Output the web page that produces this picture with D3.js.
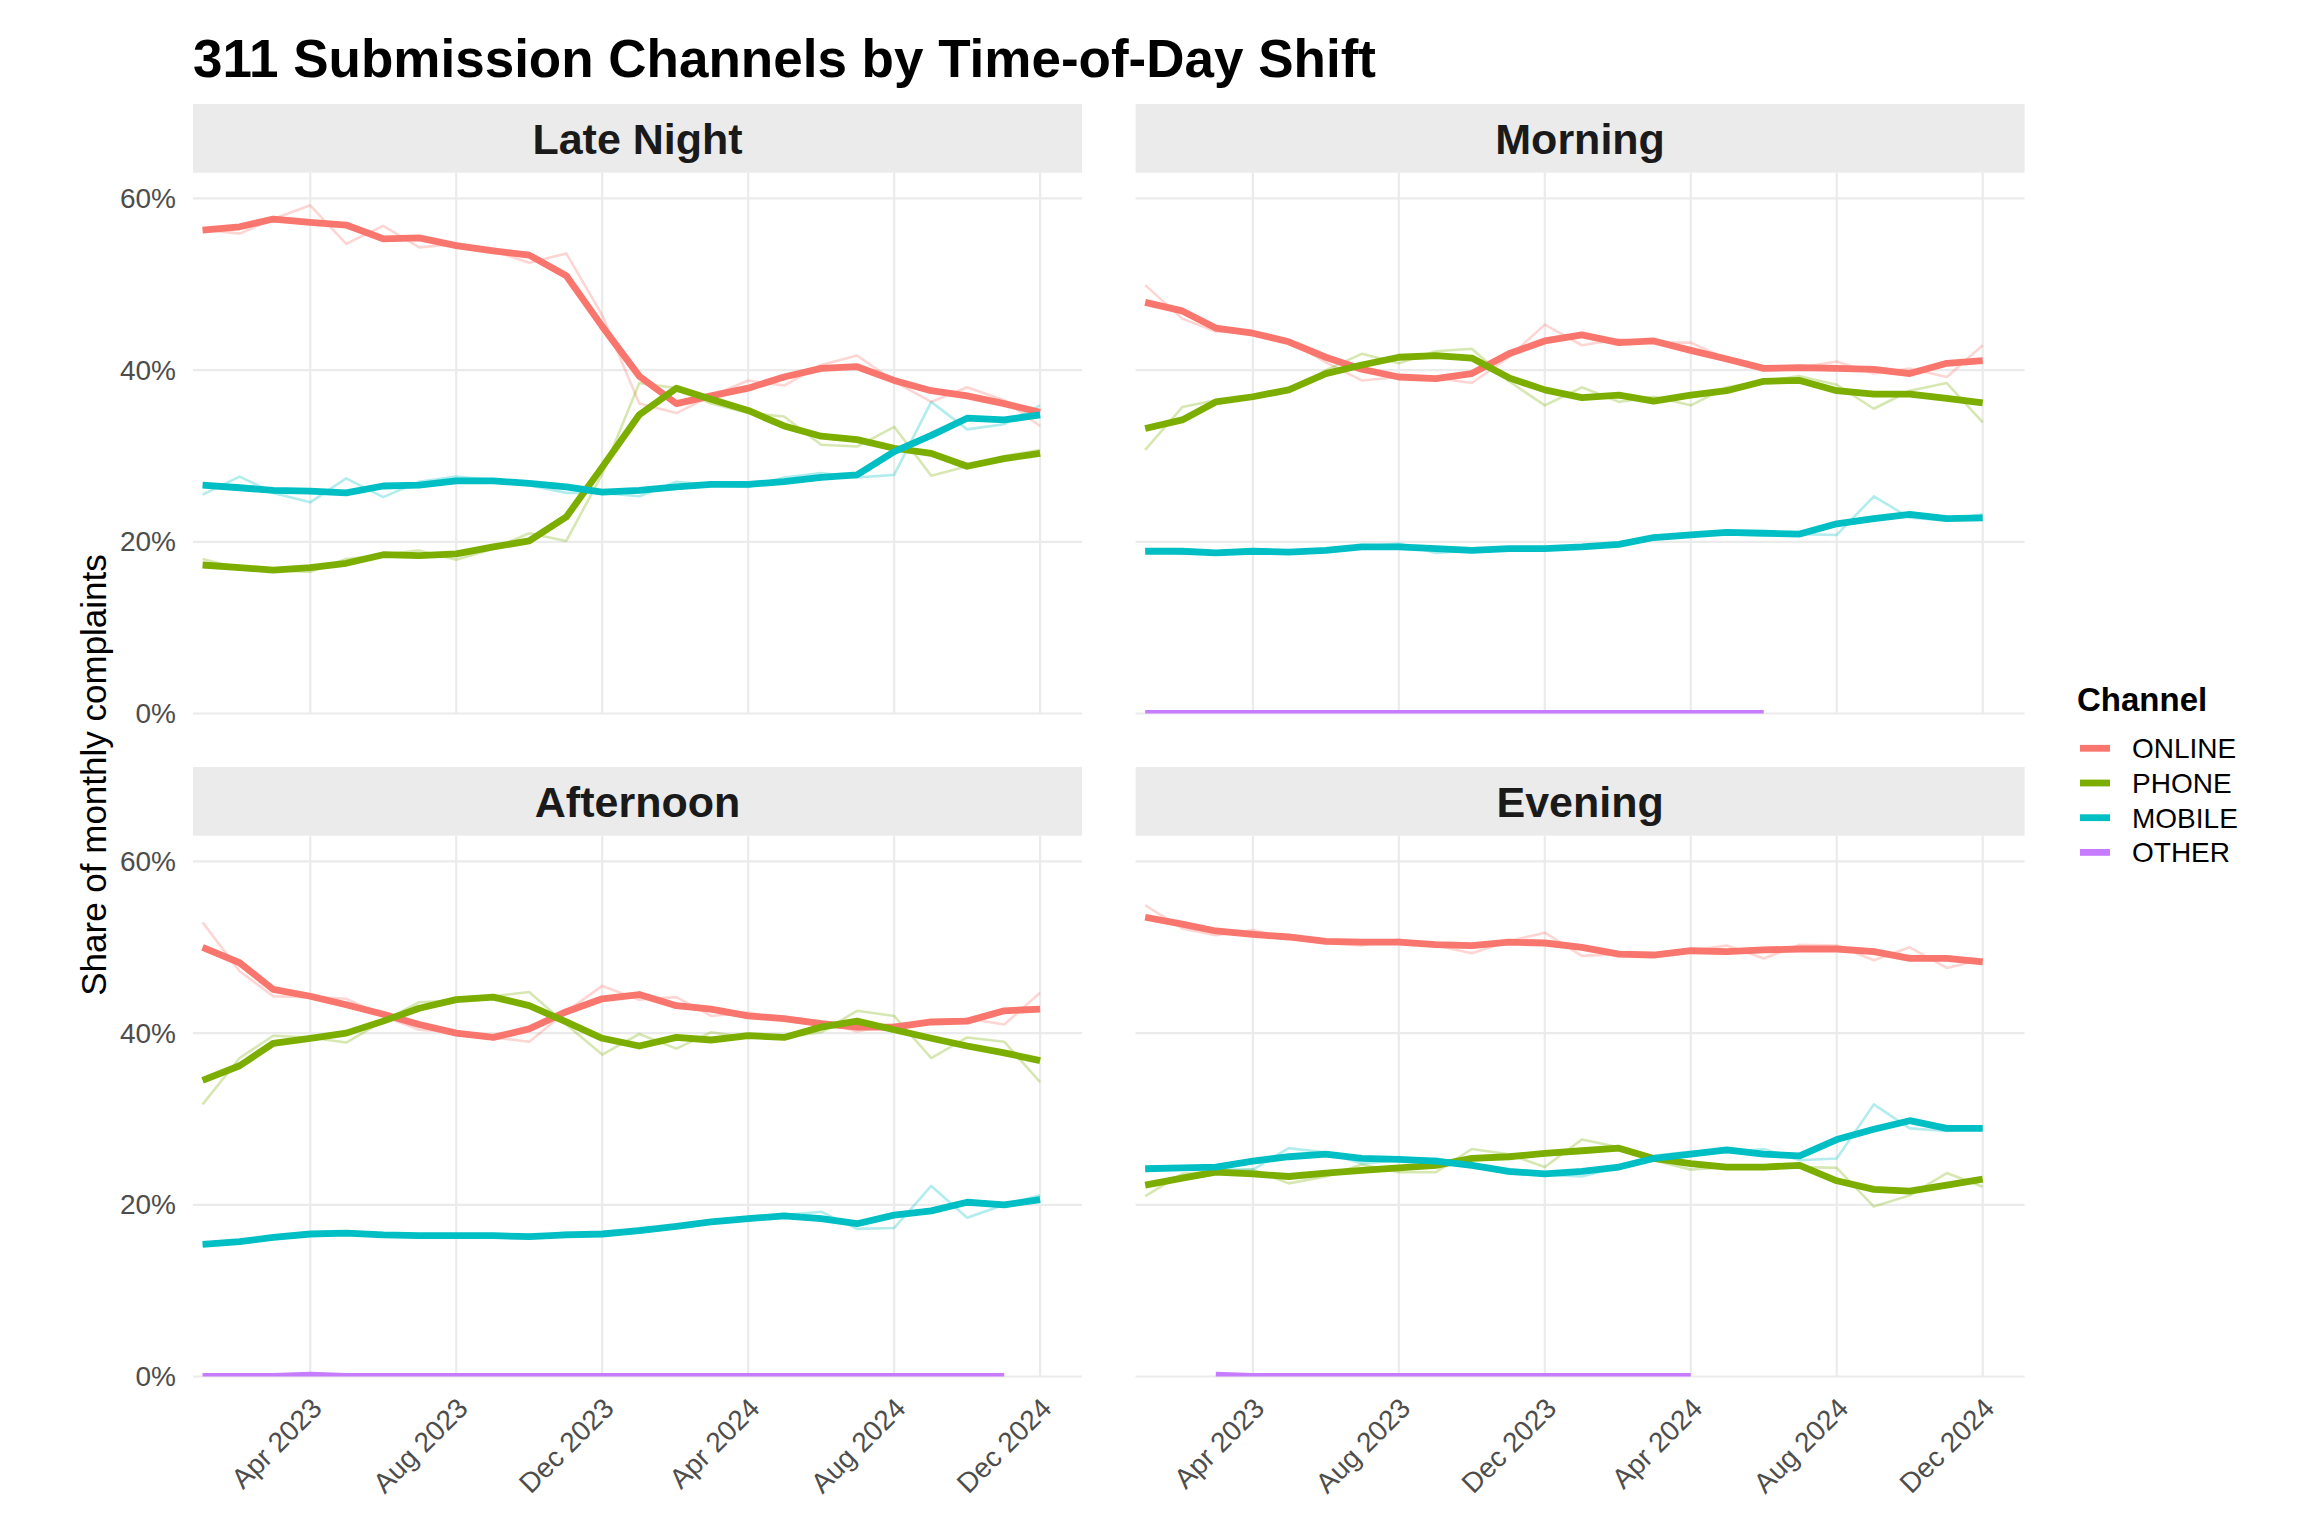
<!DOCTYPE html>
<html>
<head>
<meta charset="utf-8">
<script src="https://cdn.jsdelivr.net/npm/d3@7"></script>
<style>
  body { margin: 0; background: #ffffff; }
  text { font-family: "Liberation Sans", Arial, Helvetica, sans-serif; }
</style>
</head>
<body>
<div id="chart"></div>
<script>
// 1. DATA
// ======================================

// 1.1 Months (x categories) and ticks
var months = ["2023-01", "2023-02", "2023-03", "2023-04", "2023-05", "2023-06",
  "2023-07", "2023-08", "2023-09", "2023-10", "2023-11", "2023-12",
  "2024-01", "2024-02", "2024-03", "2024-04", "2024-05", "2024-06",
  "2024-07", "2024-08", "2024-09", "2024-10", "2024-11", "2024-12"];
var xTickMonths = ["2023-04", "2023-08", "2023-12", "2024-04", "2024-08", "2024-12"];
var yTicks = [0, 20, 40, 60];

var shifts = ["Late Night", "Morning", "Afternoon", "Evening"];
var channels = ["ONLINE", "PHONE", "MOBILE", "OTHER"];

// 1.2 Late Night (share %, raw monthly and 3-month smoothed)
var lateNightOnlineRaw = [56.4, 55.9, 57.6, 59.2, 54.7, 56.8, 54.3, 54.7, 53.9, 52.5, 53.6, 46.4, 36.1, 35.0, 37.0, 38.8, 38.2, 40.6, 41.7, 38.7, 36.3, 38.0, 36.5, 33.5];
var lateNightOnlineSmooth = [56.3, 56.7, 57.6, 57.2, 56.9, 55.3, 55.4, 54.5, 53.9, 53.4, 51.0, 45.1, 39.3, 36.1, 37.0, 37.9, 39.2, 40.2, 40.4, 38.8, 37.6, 37.0, 36.1, 35.1];
var lateNightPhoneRaw = [18.0, 16.9, 16.7, 16.5, 18.0, 18.5, 19.0, 17.9, 19.2, 21.0, 20.1, 27.9, 38.5, 37.9, 36.1, 35.0, 34.6, 31.3, 31.1, 33.4, 27.7, 28.8, 30.0, 30.7];
var lateNightPhoneSmooth = [17.3, 17.0, 16.7, 17.0, 17.5, 18.5, 18.4, 18.6, 19.4, 20.1, 22.9, 28.7, 34.8, 37.9, 36.6, 35.3, 33.5, 32.3, 31.9, 30.9, 30.3, 28.8, 29.7, 30.3];
var lateNightMobileRaw = [25.5, 27.6, 25.7, 24.6, 27.4, 25.2, 27.0, 27.6, 27.2, 26.6, 25.7, 25.7, 25.3, 27.0, 26.6, 26.4, 27.5, 28.0, 27.5, 27.8, 36.3, 33.1, 33.7, 35.9];
var lateNightMobileSmooth = [26.6, 26.3, 26.0, 25.9, 25.7, 26.5, 26.6, 27.1, 27.1, 26.8, 26.4, 25.8, 26.0, 26.4, 26.7, 26.7, 27.0, 27.5, 27.8, 30.5, 32.4, 34.4, 34.2, 34.8];
var lateNightOther = [null, null, null, null, null, null, null, null, null, null, null, null, null, null, null, null, null, null, null, null, null, null, null, null];

// 1.3 Morning
var morningOnlineRaw = [49.9, 46.0, 44.5, 44.4, 43.4, 40.9, 38.8, 39.2, 39.1, 38.5, 41.5, 45.3, 42.9, 43.6, 43.2, 43.2, 41.3, 40.4, 40.3, 41.0, 39.6, 40.2, 39.2, 42.9];
var morningOnlineSmooth = [47.9, 46.9, 44.9, 44.3, 43.3, 41.5, 40.1, 39.2, 39.0, 39.6, 41.9, 43.4, 44.1, 43.2, 43.4, 42.3, 41.3, 40.2, 40.3, 40.2, 40.1, 39.6, 40.8, 41.1];
var morningPhoneRaw = [30.7, 35.7, 36.5, 37.0, 37.5, 40.0, 41.9, 40.8, 42.2, 42.5, 38.7, 35.9, 38.0, 36.3, 36.9, 35.9, 38.0, 38.7, 39.3, 38.3, 35.5, 37.6, 38.5, 33.9];
var morningPhoneSmooth = [33.2, 34.2, 36.3, 36.9, 37.7, 39.6, 40.6, 41.5, 41.7, 41.4, 39.1, 37.7, 36.8, 37.1, 36.4, 37.1, 37.6, 38.7, 38.8, 37.6, 37.2, 37.2, 36.7, 36.2];
var morningMobileRaw = [19.1, 18.6, 18.9, 18.9, 18.7, 19.1, 19.4, 19.8, 18.7, 19.0, 19.2, 19.2, 19.5, 19.6, 20.3, 20.9, 21.0, 21.1, 20.9, 20.8, 25.3, 22.8, 22.5, 23.2];
var morningMobileSmooth = [18.9, 18.9, 18.7, 18.9, 18.8, 19.0, 19.4, 19.4, 19.2, 19.0, 19.2, 19.2, 19.4, 19.7, 20.5, 20.8, 21.1, 21.0, 20.9, 22.1, 22.7, 23.2, 22.7, 22.8];
var morningOther = [0, 0, 0, 0, 0, 0, 0, 0, 0, 0, 0, 0, 0, 0, 0, 0, 0, 0, null, null, null, null, null, null];

// 1.4 Afternoon
var afternoonOnlineRaw = [52.9, 47.2, 44.3, 44.2, 44.0, 42.0, 40.4, 40.1, 39.5, 39.0, 42.5, 45.5, 43.9, 44.2, 42.0, 42.4, 41.6, 41.4, 40.2, 41.0, 41.3, 41.7, 41.0, 44.7];
var afternoonOnlineSmooth = [50.0, 48.2, 45.1, 44.3, 43.3, 42.2, 41.0, 40.0, 39.5, 40.5, 42.5, 44.0, 44.5, 43.2, 42.8, 42.0, 41.7, 41.1, 40.7, 40.7, 41.3, 41.4, 42.6, 42.8];
var afternoonPhoneRaw = [31.7, 37.1, 39.7, 39.5, 38.9, 41.4, 43.6, 43.8, 44.3, 44.8, 41.0, 37.5, 39.9, 38.2, 40.1, 39.5, 39.5, 40.1, 42.6, 42.0, 37.1, 39.5, 39.0, 34.3];
var afternoonPhoneSmooth = [34.5, 36.2, 38.8, 39.4, 40.0, 41.4, 42.9, 43.9, 44.2, 43.2, 41.3, 39.4, 38.5, 39.5, 39.2, 39.7, 39.5, 40.7, 41.4, 40.4, 39.4, 38.5, 37.7, 36.8];
var afternoonMobileRaw = [15.3, 15.8, 16.3, 16.6, 16.8, 16.4, 16.3, 16.4, 16.3, 16.2, 16.8, 16.6, 17.3, 17.5, 18.0, 18.4, 18.8, 19.2, 17.2, 17.3, 22.2, 18.5, 20.0, 21.1];
var afternoonMobileSmooth = [15.4, 15.7, 16.2, 16.6, 16.7, 16.5, 16.4, 16.4, 16.4, 16.3, 16.5, 16.6, 17.0, 17.5, 18.0, 18.4, 18.7, 18.4, 17.8, 18.8, 19.3, 20.3, 20.0, 20.6];
var afternoonOther = [0, 0, 0, 0.15, 0, 0, 0, 0, 0, 0, 0, 0, 0, 0, 0, 0, 0, 0, 0, 0, 0, 0, 0, null];

// 1.5 Evening
var eveningOnlineRaw = [54.9, 52.2, 51.4, 52.0, 51.0, 50.5, 50.2, 50.9, 50.2, 49.3, 50.7, 51.7, 49.0, 49.2, 49.2, 49.6, 50.2, 48.7, 50.3, 50.2, 48.5, 50.0, 47.6, 48.6];
var eveningOnlineSmooth = [53.5, 52.7, 51.9, 51.5, 51.2, 50.7, 50.6, 50.6, 50.3, 50.2, 50.6, 50.5, 50.0, 49.2, 49.1, 49.6, 49.5, 49.7, 49.8, 49.8, 49.5, 48.7, 48.7, 48.3];
var eveningPhoneRaw = [21.0, 23.6, 23.9, 24.1, 22.5, 23.3, 24.7, 23.8, 23.8, 26.5, 25.9, 24.4, 27.6, 26.7, 25.2, 24.1, 24.4, 24.6, 24.4, 24.3, 19.8, 21.1, 23.7, 22.1];
var eveningPhoneSmooth = [22.3, 23.1, 23.8, 23.6, 23.3, 23.7, 24.0, 24.3, 24.6, 25.4, 25.6, 26.0, 26.3, 26.6, 25.4, 24.8, 24.4, 24.4, 24.6, 22.8, 21.8, 21.6, 22.3, 23.0];
var eveningMobileRaw = [24.1, 24.1, 24.1, 24.1, 26.6, 26.1, 24.8, 25.2, 25.4, 24.6, 23.6, 23.5, 23.3, 24.4, 25.7, 26.2, 26.1, 26.5, 25.2, 25.4, 31.7, 28.9, 28.6, 28.9];
var eveningMobileSmooth = [24.2, 24.3, 24.4, 25.1, 25.6, 25.9, 25.4, 25.3, 25.1, 24.6, 23.9, 23.6, 23.9, 24.4, 25.4, 25.9, 26.4, 25.9, 25.7, 27.6, 28.8, 29.8, 28.9, 28.9];
var eveningOther = [null, null, 0.15, 0, 0, 0, 0, 0, 0, 0, 0, 0, 0, 0, 0, 0, null, null, null, null, null, null, null, null];

// 1.6 Table the library draws from
var seriesTable = {
  "Late Night": { ONLINE: [lateNightOnlineRaw, lateNightOnlineSmooth], PHONE: [lateNightPhoneRaw, lateNightPhoneSmooth], MOBILE: [lateNightMobileRaw, lateNightMobileSmooth], OTHER: [lateNightOther, lateNightOther] },
  "Morning": { ONLINE: [morningOnlineRaw, morningOnlineSmooth], PHONE: [morningPhoneRaw, morningPhoneSmooth], MOBILE: [morningMobileRaw, morningMobileSmooth], OTHER: [morningOther, morningOther] },
  "Afternoon": { ONLINE: [afternoonOnlineRaw, afternoonOnlineSmooth], PHONE: [afternoonPhoneRaw, afternoonPhoneSmooth], MOBILE: [afternoonMobileRaw, afternoonMobileSmooth], OTHER: [afternoonOther, afternoonOther] },
  "Evening": { ONLINE: [eveningOnlineRaw, eveningOnlineSmooth], PHONE: [eveningPhoneRaw, eveningPhoneSmooth], MOBILE: [eveningMobileRaw, eveningMobileSmooth], OTHER: [eveningOther, eveningOther] }
};

// 2. SET UP SVG
// ======================================
var svgWidth = 2304;
var svgHeight = 1536;

var panelW = 889;
var panelH = 540.8;
var stripH = 68.7;
var colX = [193, 1135.6];
var rowY = [172.7, 835.7];

var colors = d3.scaleOrdinal()
  .domain(channels)
  .range(["#F8766D", "#7CAE00", "#00BFC4", "#C77CFF"]);

var parseMonth = d3.utcParse("%Y-%m");

var svg = d3.select("#chart")
  .append("svg")
  .attr("width", svgWidth)
  .attr("height", svgHeight);

svg.append("rect")
  .attr("width", svgWidth)
  .attr("height", svgHeight)
  .attr("fill", "#ffffff");

// shared scales (facets use fixed scales)
var xScale = d3.scaleUtc()
  .domain([Date.UTC(2022, 11, 24), Date.UTC(2025, 0, 5)])
  .range([0, panelW]);

var yScale = d3.scaleLinear()
  .domain([0, 63])
  .range([panelH, 0]);

var rawLine = d3.line()
  .defined(d => d.v !== null)
  .x(d => xScale(d.date))
  .y(d => yScale(d.v));

// 3. TITLE
// ======================================
svg.append("text")
  .attr("x", 193)
  .attr("y", 77)
  .attr("font-size", 53)
  .attr("font-weight", "bold")
  .attr("fill", "#000000")
  .text("311 Submission Channels by Time-of-Day Shift");

// 4. PANELS
// ======================================
shifts.forEach(function(shift, idx) {
  var col = idx % 2;
  var row = Math.floor(idx / 2);

  var g = svg.append("g")
    .attr("transform", `translate(${colX[col]}, ${rowY[row]})`);

  // 4.1 strip
  g.append("rect")
    .attr("x", 0)
    .attr("y", -stripH)
    .attr("width", panelW)
    .attr("height", stripH)
    .attr("fill", "#EBEBEB");

  g.append("text")
    .attr("x", panelW / 2)
    .attr("y", -stripH / 2 + 15.3)
    .attr("text-anchor", "middle")
    .attr("font-size", 43)
    .attr("font-weight", "bold")
    .attr("fill", "#1A1A1A")
    .text(shift);

  // 4.2 grid
  g.selectAll(".hgrid")
    .data(yTicks)
    .enter()
    .append("line")
    .attr("x1", 0)
    .attr("x2", panelW)
    .attr("y1", d => yScale(d))
    .attr("y2", d => yScale(d))
    .attr("stroke", "#EBEBEB")
    .attr("stroke-width", 2.2);

  g.selectAll(".vgrid")
    .data(xTickMonths)
    .enter()
    .append("line")
    .attr("x1", d => xScale(parseMonth(d)))
    .attr("x2", d => xScale(parseMonth(d)))
    .attr("y1", 0)
    .attr("y2", panelH)
    .attr("stroke", "#EBEBEB")
    .attr("stroke-width", 2.2);

  // 4.3 clip to the panel
  var clipId = "clip" + idx;
  g.append("clipPath")
    .attr("id", clipId)
    .append("rect")
    .attr("width", panelW)
    .attr("height", panelH);

  var lines = g.append("g").attr("clip-path", `url(#${clipId})`);

  var table = seriesTable[shift];

  // raw monthly lines (faint)
  channels.forEach(function(ch) {
    if (ch === "OTHER") return;
    var pts = table[ch][0].map((v, i) => ({ date: parseMonth(months[i]), v: v }));
    lines.append("path")
      .datum(pts)
      .attr("d", rawLine)
      .attr("fill", "none")
      .attr("stroke", colors(ch))
      .attr("stroke-opacity", 0.3)
      .attr("stroke-width", 2.6)
      .attr("stroke-linejoin", "round");
  });

  // smoothed lines (thick)
  channels.forEach(function(ch) {
    var pts = table[ch][1].map((v, i) => ({ date: parseMonth(months[i]), v: v }));
    if (pts.every(d => d.v === null)) return;
    lines.append("path")
      .datum(pts)
      .attr("d", rawLine)
      .attr("fill", "none")
      .attr("stroke", colors(ch))
      .attr("stroke-width", 6.8)
      .attr("stroke-linejoin", "round");
  });

  // 4.4 y axis labels (left column only)
  if (col === 0) {
    var yAxis = g.append("g")
      .call(d3.axisLeft(yScale).tickValues(yTicks).tickFormat(d => d + "%").tickSize(0).tickPadding(17));
    yAxis.select(".domain").remove();
    yAxis.selectAll("text")
      .attr("font-size", 28)
      .attr("font-family", null)
      .attr("fill", "#4D4D4D");
  }

  // 4.5 x axis labels (bottom row only)
  if (row === 1) {
    var xAxis = g.append("g")
      .attr("transform", `translate(0, ${panelH})`)
      .call(d3.axisBottom(xScale)
        .tickValues(xTickMonths.map(parseMonth))
        .tickFormat(d3.utcFormat("%b %Y"))
        .tickSize(0));
    xAxis.select(".domain").remove();
    xAxis.selectAll("text")
      .attr("x", 12.7)
      .attr("y", 33.5)
      .attr("dy", 0)
      .attr("text-anchor", "end")
      .attr("transform", "rotate(-45, 12.7, 33.5)")
      .attr("font-size", 28)
      .attr("font-family", null)
      .attr("fill", "#4D4D4D");
  }
});

// 5. Y AXIS TITLE
// ======================================
svg.append("text")
  .attr("transform", "translate(106, 775) rotate(-90)")
  .attr("text-anchor", "middle")
  .attr("font-size", 35)
  .attr("fill", "#000000")
  .text("Share of monthly complaints");

// 6. LEGEND
// ======================================
var legend = svg.append("g")
  .attr("transform", "translate(2077, 0)");

legend.append("text")
  .attr("x", 0)
  .attr("y", 711)
  .attr("font-size", 33)
  .attr("font-weight", "bold")
  .attr("fill", "#000000")
  .text("Channel");

var legendRows = legend.selectAll(".legend-row")
  .data(channels)
  .enter()
  .append("g")
  .attr("transform", (d, i) => `translate(0, ${748.3 + i * 34.7})`);

legendRows.append("line")
  .attr("x1", 3)
  .attr("x2", 33)
  .attr("y1", 0)
  .attr("y2", 0)
  .attr("stroke", d => colors(d))
  .attr("stroke-width", 6.8);

legendRows.append("text")
  .attr("x", 55)
  .attr("y", 10)
  .attr("font-size", 28)
  .attr("fill", "#000000")
  .text(d => d);
</script>
</body>
</html>
